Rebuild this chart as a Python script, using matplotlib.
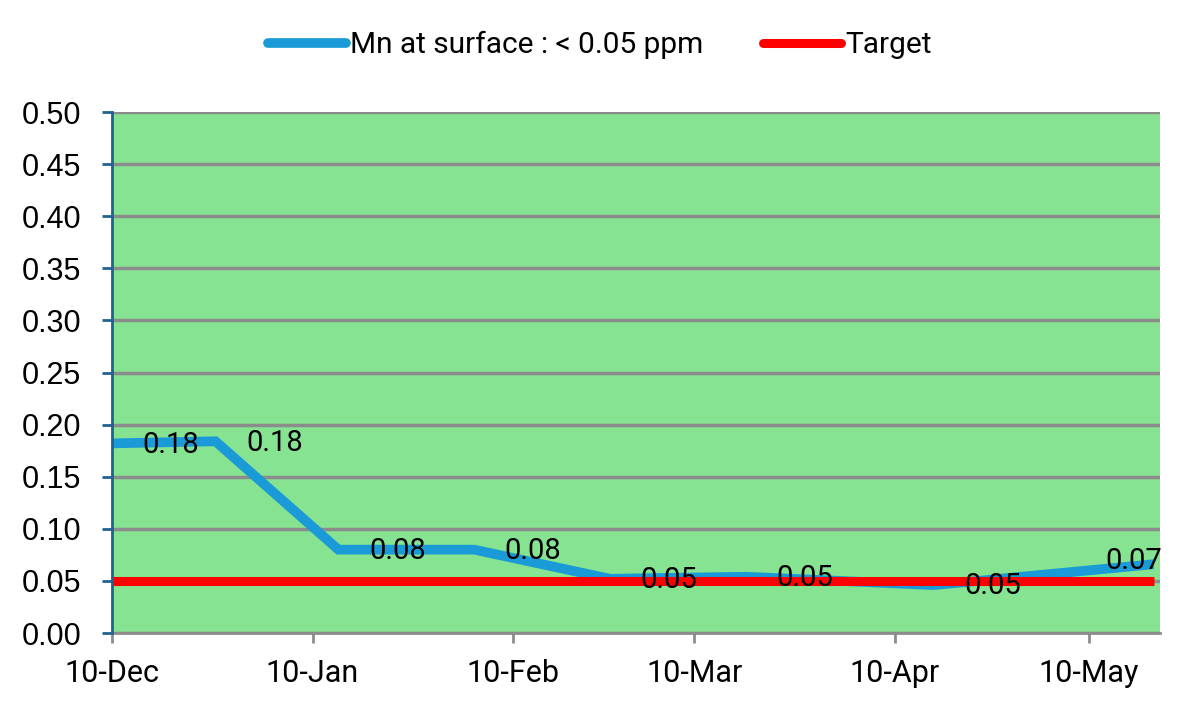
import matplotlib
matplotlib.use("Agg")
import matplotlib.pyplot as plt
import matplotlib.dates as mdates
import pandas as pd

# sample dates and Mn readings (ppm)
dates = pd.to_datetime(["2024-12-10", "2024-12-26", "2025-01-14", "2025-02-04",
                        "2025-02-25", "2025-03-18", "2025-04-16", "2025-05-20"])
mn_values = [0.182, 0.184, 0.080, 0.080, 0.052, 0.054, 0.046, 0.066]
mn_labels = ["0.18", "0.18", "0.08", "0.08", "0.05", "0.05", "0.05", "0.07"]
target_value = 0.05
tick_dates = pd.to_datetime(["2024-12-10", "2025-01-10", "2025-02-10",
                             "2025-03-10", "2025-04-10", "2025-05-10"])
y_ticks = [0.00, 0.05, 0.10, 0.15, 0.20, 0.25, 0.30, 0.35, 0.40, 0.45, 0.50]

narrow = ["Roboto", "DejaVu Sans"]

fig = plt.figure(figsize=(12, 7.19), dpi=100)
ax = fig.add_axes([0.0933, 0.1196, 0.8734, 0.7246])
ax.set_facecolor("#86E391")

ax.plot(dates, mn_values, color="#1A9AD6", lw=7, solid_joinstyle="miter",
        solid_capstyle="butt", label="Mn at surface : < 0.05 ppm", zorder=3)
ax.plot([dates[0], dates[-1]], [target_value, target_value], color="#FF0000",
        lw=6.5, solid_capstyle="butt", label="Target", zorder=4)

for i, (d, v, t) in enumerate(zip(dates, mn_values, mn_labels)):
    if i == len(dates) - 1:
        ax.annotate(t, (d, v), xytext=(6, 2), textcoords="offset points",
                    ha="right", va="center", fontsize=21, family=narrow, zorder=5)
    else:
        ax.annotate(t, (d, v), xytext=(22, -1), textcoords="offset points",
                    ha="left", va="center", fontsize=21, family=narrow, zorder=5)

ax.set_xlim(pd.Timestamp("2024-12-10"), pd.Timestamp("2025-05-21"))
ax.set_ylim(0, 0.5)
ax.set_yticks(y_ticks)
ax.set_yticklabels(["%.2f" % v for v in y_ticks], fontsize=22, family="Liberation Sans")
ax.set_xticks(tick_dates)
ax.xaxis.set_major_formatter(mdates.DateFormatter("%d-%b"))
for lab in ax.get_xticklabels():
    lab.set_fontsize(22)
    lab.set_family(narrow)

ax.grid(axis="y", color="#8C8C8C", lw=2.5, zorder=1)
ax.set_axisbelow(True)
for s in ["top", "right"]:
    ax.spines[s].set_visible(False)
ax.spines["left"].set_color("#1F6391")
ax.spines["left"].set_linewidth(2)
ax.spines["left"].set_zorder(6)
ax.spines["bottom"].set_color("#8C8C8C")
ax.spines["bottom"].set_linewidth(2)
ax.tick_params(axis="y", color="#1F6391", width=2, length=7, pad=15)
ax.tick_params(axis="x", color="#8C8C8C", width=2, length=7, pad=12)

leg = fig.legend(loc="center", bbox_to_anchor=(0.5, 0.937), ncol=2, frameon=False,
                 prop={"family": narrow, "size": 21.5}, handlelength=2.6,
                 handletextpad=0.15, columnspacing=2.0)
for h in leg.get_lines():
    h.set_solid_capstyle("round")

fig.savefig("out.png", dpi=100)
